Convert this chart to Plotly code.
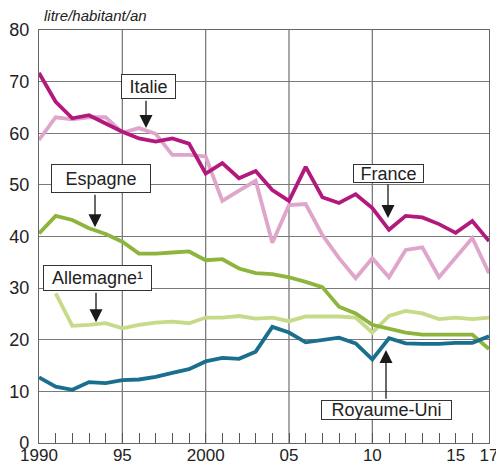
import plotly.graph_objects as go

years = list(range(1990, 2018))

france = [71.7, 66.1, 62.9, 63.5, 61.9, 60.3, 59.0, 58.4, 59.0, 58.0,
          52.2, 54.2, 51.3, 52.7, 49.0, 46.9, 53.5, 47.6, 46.5, 48.2,
          45.5, 41.3, 44.0, 43.7, 42.4, 40.7, 43.0, 39.1]
italie = [58.7, 63.1, 62.7, 63.1, 63.1, 60.1, 61.0, 59.9, 55.8, 55.8,
          55.5, 46.9, 48.9, 50.8, 38.8, 46.1, 46.3, 40.3, 35.8, 31.9,
          35.8, 32.1, 37.4, 37.9, 32.1, 35.8, 39.7, 32.9]
espagne = [40.6, 44.0, 43.2, 41.6, 40.5, 39.0, 36.7, 36.7, 36.9, 37.1,
           35.4, 35.6, 33.8, 32.9, 32.7, 32.1, 31.2, 30.2, 26.4, 25.1,
           22.9, 22.2, 21.4, 21.0, 21.0, 21.0, 21.0, 18.2]
allemagne = [None, 29.0, 22.7, 22.9, 23.2, 22.2, 22.9, 23.3, 23.5, 23.2,
             24.3, 24.3, 24.6, 24.1, 24.3, 23.6, 24.5, 24.5, 24.5, 24.3,
             21.4, 24.6, 25.6, 25.1, 24.0, 24.3, 24.0, 24.3]
royaume_uni = [12.7, 10.9, 10.3, 11.8, 11.6, 12.2, 12.3, 12.8, 13.6, 14.3,
               15.8, 16.5, 16.3, 17.7, 22.5, 21.4, 19.5, 20.0, 20.4, 19.3,
               16.2, 20.3, 19.3, 19.2, 19.2, 19.4, 19.4, 20.7]

tick_vals = [1990, 1995, 2000, 2005, 2010, 2015, 2017]
tick_text = ["1990", "95", "2000", "05", "10", "15", "17"]
vgrid_years = [1995, 2000, 2005, 2010]

# label boxes: text, center x, center y, width, height
labels = [
    ("Italie", 1996.57, 69.1, 55, 25),
    ("Espagne", 1993.72, 51.2, 100, 29),
    ("Allemagne¹", 1993.51, 32.0, 109, 26),
    ("France", 2010.96, 52.2, 71, 19),
    ("Royaume-Uni", 2010.85, 6.4, 131, 20),
]
# arrows: tail x, tail y, tip x, tip y
arrows = [
    (1996.42, 66.6, 1996.42, 61.0),
    (1993.36, 48.4, 1993.36, 41.8),
    (1993.42, 29.4, 1993.42, 23.4),
    (2010.94, 50.4, 2010.94, 43.6),
    (2010.82, 8.3, 2010.82, 18.0),
]

FONT = "Arial, 'Liberation Sans', Helvetica, sans-serif"

fig = go.Figure()
series = [
    ("Italie", italie, "#dfa5cb"),
    ("Allemagne", allemagne, "#c6da8a"),
    ("Espagne", espagne, "#8db53c"),
    ("Royaume-Uni", royaume_uni, "#1a6e8e"),
    ("France", france, "#b3197c"),
]
for name, vals, col in series:
    fig.add_trace(go.Scatter(x=years, y=vals, name=name, mode="lines",
                             line=dict(color=col, width=3.8),
                             connectgaps=False, showlegend=False))

shapes = []
for yr in vgrid_years:
    shapes.append(dict(type="line", xref="x", yref="paper", x0=yr, x1=yr, y0=0, y1=1,
                       line=dict(color="#7a7a7a", width=1.3), layer="below"))

annotations = []
for (text, cx, cy, w, h) in labels:
    annotations.append(dict(x=cx, y=cy, xref="x", yref="y", text=text, showarrow=False,
                            font=dict(family=FONT, size=18, color="#222"),
                            bgcolor="white", bordercolor="#333", borderwidth=1,
                            borderpad=0, width=w - 2, height=h - 2,
                            xanchor="center", yanchor="middle"))
for (tx, ty, hx, hy) in arrows:
    annotations.append(dict(x=hx, y=hy, xref="x", yref="y", ax=tx, ay=ty,
                            axref="x", ayref="y", text="", showarrow=True,
                            arrowhead=2, arrowsize=2.0, arrowwidth=1.3,
                            arrowcolor="#1a1a1a", standoff=0, startstandoff=0))
annotations.append(dict(x=3 / 450, y=1.01, xref="paper", yref="paper",
                        text="<i>litre/habitant/an</i>", showarrow=False,
                        xanchor="left", yanchor="bottom",
                        font=dict(family=FONT, size=15, color="#222")))

fig.update_layout(
    width=496, height=463,
    margin=dict(l=39, r=7, t=30, b=20),
    paper_bgcolor="white", plot_bgcolor="white",
    font=dict(family=FONT, color="#222"),
    shapes=shapes, annotations=annotations,
    xaxis=dict(range=[1990, 2017], tickmode="array", tickvals=tick_vals, ticktext=tick_text,
               ticks="inside", ticklen=10, tickcolor="#555", tickwidth=1.2,
               showgrid=False, zeroline=False, showline=True, linecolor="#666",
               linewidth=1.3, mirror=True, automargin=False,
               ticklabeloverflow="allow", ticklabelstandoff=-4,
               tickfont=dict(family=FONT, size=17, color="#222"),
               minor=dict(tickmode="linear", tick0=1990, dtick=1, ticks="inside",
                          ticklen=10, tickcolor="#555", tickwidth=1.2, showgrid=False)),
    yaxis=dict(range=[0, 80], dtick=10, ticks="", showgrid=True, gridcolor="#7a7a7a",
               gridwidth=1.3, zeroline=False, showline=True, linecolor="#666",
               linewidth=1.3, mirror=True, ticklabelstandoff=5, automargin=False,
               ticklabeloverflow="allow",
               tickfont=dict(family=FONT, size=18, color="#222")),
)

fig.write_html("out.html", config={"displayModeBar": False},
               post_script="document.body.style.margin='0';document.body.style.overflow='hidden';")
